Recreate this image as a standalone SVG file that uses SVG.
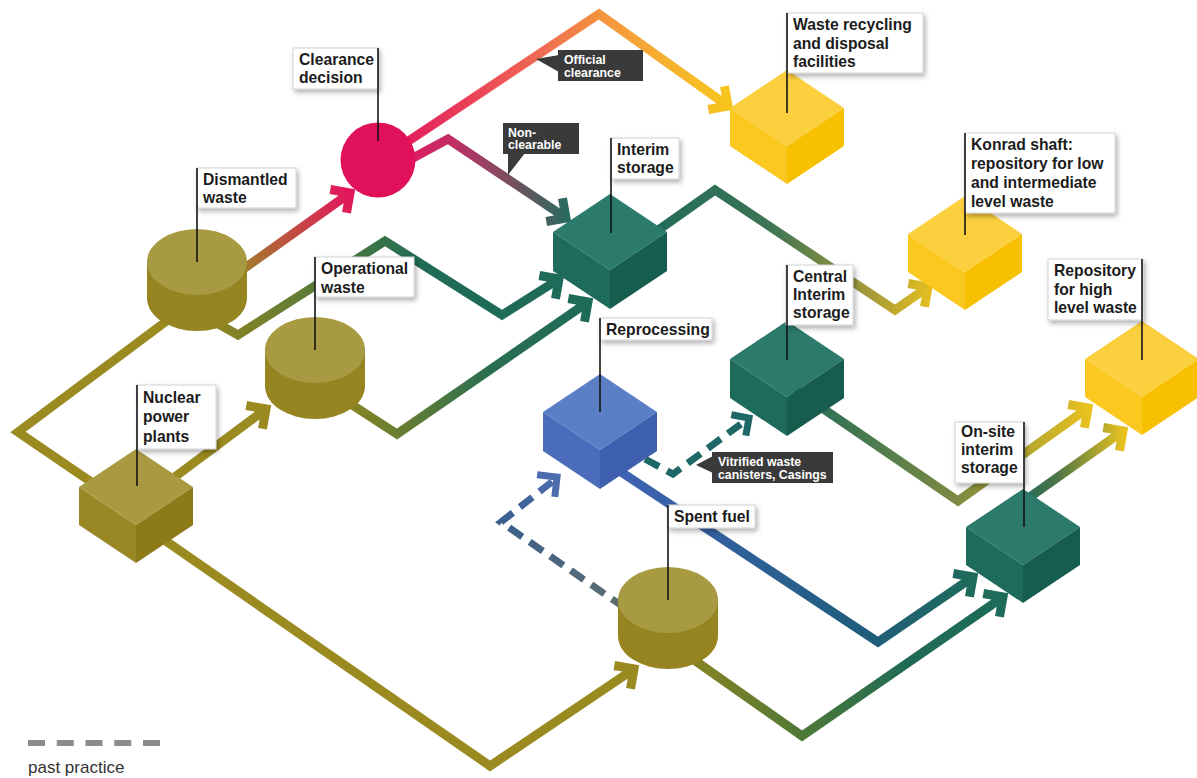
<svg xmlns="http://www.w3.org/2000/svg" width="1197" height="778" viewBox="0 0 1197 778">
<defs>
<style>
.conn{fill:none;stroke-width:9;stroke-linejoin:miter;stroke-miterlimit:10;stroke-linecap:butt}
.dash{fill:none;stroke-width:7;stroke-dasharray:16 9}
.head{fill:none;stroke-width:7;stroke-linejoin:miter;stroke-miterlimit:10}
.ol{stroke:#9a8a1f}
.box{fill:#fff;stroke:#d2d2d2;stroke-width:1;filter:url(#sh)}
.ptr{stroke:#141414;stroke-width:1.6}
.lt{font-family:"Liberation Sans",Arial,sans-serif;font-weight:bold;font-size:15.7px;fill:#1c1c1c}
.dbox{fill:#3a3a3a}
.dt{font-family:"Liberation Sans",Arial,sans-serif;font-weight:bold;font-size:12.3px;fill:#fff}
.oT{fill:#a99a42}.oL{fill:#9a8826}.oR{fill:#8d7b19}
.tT{fill:#2c7a6c}.tL{fill:#1e6a5b}.tR{fill:#165d4f}
.yT{fill:#fccf3f}.yL{fill:#fbc820}.yR{fill:#f7c000}
.bT{fill:#5b7fc6}.bL{fill:#4a6cbb}.bR{fill:#3e5fae}
.cylTop{fill:#a89a42}.cylSide{fill:#95841f}
</style>
<filter id="sh" x="-20%" y="-20%" width="150%" height="160%">
<feDropShadow dx="2" dy="3" stdDeviation="2.5" flood-color="#000" flood-opacity="0.3"/>
</filter>
<linearGradient id="gD" gradientUnits="userSpaceOnUse" x1="228" y1="280" x2="350" y2="193"><stop offset="0" stop-color="#9a8a24"/><stop offset="1" stop-color="#e3165c"/></linearGradient>
<linearGradient id="gE" gradientUnits="userSpaceOnUse" x1="395" y1="0" x2="728" y2="0"><stop offset="0" stop-color="#e3175c"/><stop offset="0.45" stop-color="#ef6d52"/><stop offset="0.62" stop-color="#f5953f"/><stop offset="0.9" stop-color="#f6bb28"/><stop offset="1" stop-color="#f7c41c"/></linearGradient>
<linearGradient id="gF" gradientUnits="userSpaceOnUse" x1="400" y1="0" x2="566" y2="0"><stop offset="0" stop-color="#e1185e"/><stop offset="0.3" stop-color="#c42d67"/><stop offset="0.65" stop-color="#7b4e5f"/><stop offset="1" stop-color="#2a6a60"/></linearGradient>
<linearGradient id="gG" gradientUnits="userSpaceOnUse" x1="215" y1="0" x2="559" y2="0"><stop offset="0" stop-color="#8e8420"/><stop offset="0.35" stop-color="#4e7a3c"/><stop offset="0.6" stop-color="#1f6b55"/><stop offset="1" stop-color="#1e6b5a"/></linearGradient>
<linearGradient id="gH" gradientUnits="userSpaceOnUse" x1="340" y1="0" x2="588" y2="0"><stop offset="0" stop-color="#8e8420"/><stop offset="0.25" stop-color="#667e32"/><stop offset="0.6" stop-color="#2a6e50"/><stop offset="1" stop-color="#1e6b5a"/></linearGradient>
<linearGradient id="gI" gradientUnits="userSpaceOnUse" x1="640" y1="0" x2="928" y2="0"><stop offset="0" stop-color="#1e6b5a"/><stop offset="0.45" stop-color="#3d7455"/><stop offset="0.8" stop-color="#a69b38"/><stop offset="1" stop-color="#e2bd20"/></linearGradient>
<linearGradient id="gJ" gradientUnits="userSpaceOnUse" x1="790" y1="0" x2="1088" y2="0"><stop offset="0" stop-color="#1e6b5a"/><stop offset="0.56" stop-color="#7d8a42"/><stop offset="1" stop-color="#e8c11f"/></linearGradient>
<linearGradient id="gK" gradientUnits="userSpaceOnUse" x1="1020" y1="0" x2="1123" y2="0"><stop offset="0" stop-color="#1e6b5a"/><stop offset="0.35" stop-color="#4a7448"/><stop offset="1" stop-color="#e8c11f"/></linearGradient>
<linearGradient id="gL" gradientUnits="userSpaceOnUse" x1="615" y1="0" x2="973" y2="0"><stop offset="0" stop-color="#3f63b4"/><stop offset="0.7" stop-color="#1f5d7c"/><stop offset="1" stop-color="#1e6b5a"/></linearGradient>
<linearGradient id="gM" gradientUnits="userSpaceOnUse" x1="680" y1="0" x2="1003" y2="0"><stop offset="0" stop-color="#8e8420"/><stop offset="0.4" stop-color="#4a7838"/><stop offset="0.7" stop-color="#1f6b55"/><stop offset="1" stop-color="#1e6b5a"/></linearGradient>
<linearGradient id="gN" gradientUnits="userSpaceOnUse" x1="0" y1="608" x2="0" y2="477"><stop offset="0" stop-color="#5e6e6e"/><stop offset="0.65" stop-color="#3a5e8c"/><stop offset="1" stop-color="#4c6cae"/></linearGradient>
</defs>
<rect width="1197" height="778" fill="#fff"/>

<g id="connectors">
<path class="conn ol" d="M100,488 L18,432 L188,305 M168.3,301.5 L188,305 L184.5,324.7"/>
<path class="conn ol" d="M160,488 L266,409 M246.3,405.5 L266,409 L262.5,428.7"/>
<path class="conn ol" d="M150,530 L490,766 L634,669 M614.3,665.5 L634,669 L630.5,688.7"/>
<path class="conn" stroke="url(#gD)" d="M228,280 L350,193 M330.3,189.5 L350,193 L346.5,212.7"/>
<path class="conn" stroke="url(#gE)" d="M395,150 L599,14 L728,106 M724.5,86.3 L728,106 L708.3,109.5"/>
<path class="conn" stroke="url(#gF)" d="M400,165 L448,139 L566,218 M562.5,198.3 L566,218 L546.3,221.5"/>
<path class="conn" stroke="url(#gG)" d="M215,322 L238,335 L385,241 L502,315 L559,279 M539.3,275.5 L559,279 L555.5,298.7"/>
<path class="conn" stroke="url(#gH)" d="M340,397 L397,434 L588,302 M568.3,298.5 L588,302 L584.5,321.7"/>
<path class="conn" stroke="url(#gI)" d="M640,243 L715,190 L895,310 L928,287 M908.3,283.5 L928,287 L924.5,306.7"/>
<path class="conn" stroke="url(#gJ)" d="M790,386 L958,501 L1088,408 M1068.3,404.5 L1088,408 L1084.5,427.7"/>
<path class="conn" stroke="url(#gK)" d="M1020,504 L1123,431 M1103.3,427.5 L1123,431 L1119.5,450.7"/>
<path class="conn" stroke="url(#gL)" d="M615,468 L878,642 L973,577 M953.3,573.5 L973,577 L969.5,596.7"/>
<path class="conn" stroke="url(#gM)" d="M680,650 L802,736 L1003,597 M983.3,593.5 L1003,597 L999.5,616.7"/>
<path class="dash" stroke="url(#gN)" d="M625,608 L501,522 L553,481"/>
<path class="head" stroke="#4c6cae" d="M537.1,474.8 L557,477 L554.8,496.9"/>
<path class="dash" stroke="#1f6868" d="M645,459 L673,474 L745,421"/>
<path class="head" stroke="#1f6868" d="M731.3,414.8 L749,418 L745.8,435.7"/>
</g>

<g id="connector-labels">
<g id="lbl-official">
<polygon class="dbox" points="536,59 559,55 559,72"/>
<rect class="dbox" x="558" y="50" width="85" height="31"/>
<text class="dt" x="564" y="64">Official</text>
<text class="dt" x="564" y="76.5">clearance</text>
</g>
<g id="lbl-nonclearable">
<polygon class="dbox" points="508,153 525,153 508,175"/>
<rect class="dbox" x="503" y="123" width="76" height="31"/>
<text class="dt" x="508" y="137">Non-</text>
<text class="dt" x="508" y="149">clearable</text>
</g>
<g id="lbl-vitrified">
<polygon class="dbox" points="696,465 713,456 713,473"/>
<rect class="dbox" x="712" y="452" width="121" height="31"/>
<text class="dt" x="718" y="466">Vitrified waste</text>
<text class="dt" x="718" y="478.5">canisters, Casings</text>
</g>
</g>

<g id="nuclear-power-plants">
<g transform="translate(136,449)">
<polygon class="oT" points="0,0 57,38 0,76 -57,38"/>
<polygon class="oL" points="-57,38 0,76 0,114 -57,76"/>
<polygon class="oR" points="0,76 57,38 57,76 0,114"/>
</g>
<rect class="box" x="137" y="385" width="79" height="64"/>
<line class="ptr" x1="137" y1="385" x2="137" y2="486"/>
<text class="lt" x="143" y="403">Nuclear</text>
<text class="lt" x="143" y="422">power</text>
<text class="lt" x="143" y="441.5">plants</text>
</g>

<g id="dismantled-waste">
<g transform="translate(197,262)">
<path class="cylSide" d="M-50,0 L-50,36 A50,33 0 0 0 50,36 L50,0 Z"/>
<ellipse class="cylTop" cx="0" cy="0" rx="50" ry="33"/>
</g>
<rect class="box" x="197" y="168" width="99" height="40"/>
<line class="ptr" x1="197" y1="168" x2="197" y2="262"/>
<text class="lt" x="203" y="185">Dismantled</text>
<text class="lt" x="203" y="203">waste</text>
</g>

<g id="operational-waste">
<g transform="translate(315,350)">
<path class="cylSide" d="M-50,0 L-50,36 A50,33 0 0 0 50,36 L50,0 Z"/>
<ellipse class="cylTop" cx="0" cy="0" rx="50" ry="33"/>
</g>
<rect class="box" x="315" y="257" width="99" height="40"/>
<line class="ptr" x1="315" y1="257" x2="315" y2="350"/>
<text class="lt" x="321" y="274">Operational</text>
<text class="lt" x="321" y="292.5">waste</text>
</g>

<g id="clearance-decision">
<circle cx="378" cy="160" r="37.5" fill="#e0115a"/>
<rect class="box" x="293" y="48" width="85" height="41"/>
<line class="ptr" x1="378" y1="48" x2="378" y2="141"/>
<text class="lt" x="299" y="65">Clearance</text>
<text class="lt" x="299" y="83">decision</text>
</g>

<g id="interim-storage">
<g transform="translate(610,194)">
<polygon class="tT" points="0,0 57,38 0,76 -57,38"/>
<polygon class="tL" points="-57,38 0,76 0,115 -57,77"/>
<polygon class="tR" points="0,76 57,38 57,77 0,115"/>
</g>
<rect class="box" x="611" y="138" width="68" height="41"/>
<line class="ptr" x1="611" y1="138" x2="611" y2="233"/>
<text class="lt" x="617" y="155">Interim</text>
<text class="lt" x="617" y="173">storage</text>
</g>

<g id="waste-recycling">
<g transform="translate(787,70)">
<polygon class="yT" points="0,0 57,38 0,76 -57,38"/>
<polygon class="yL" points="-57,38 0,76 0,114 -57,76"/>
<polygon class="yR" points="0,76 57,38 57,76 0,114"/>
</g>
<rect class="box" x="787" y="13" width="136" height="60"/>
<line class="ptr" x1="787" y1="13" x2="787" y2="113"/>
<text class="lt" x="793" y="30">Waste recycling</text>
<text class="lt" x="793" y="48.5">and disposal</text>
<text class="lt" x="793" y="67">facilities</text>
</g>

<g id="konrad-shaft">
<g transform="translate(965,196)">
<polygon class="yT" points="0,0 57,38 0,76 -57,38"/>
<polygon class="yL" points="-57,38 0,76 0,114 -57,76"/>
<polygon class="yR" points="0,76 57,38 57,76 0,114"/>
</g>
<rect class="box" x="965" y="133" width="150" height="80"/>
<line class="ptr" x1="965" y1="133" x2="965" y2="235"/>
<text class="lt" x="971" y="150">Konrad shaft:</text>
<text class="lt" x="971" y="169">repository for low</text>
<text class="lt" x="971" y="188">and intermediate</text>
<text class="lt" x="971" y="207">level waste</text>
</g>

<g id="repository-high-level">
<g transform="translate(1142,321)">
<polygon class="yT" points="0,0 57,38 0,76 -57,38"/>
<polygon class="yL" points="-57,38 0,76 0,114 -57,76"/>
<polygon class="yR" points="0,76 57,38 57,76 0,114"/>
</g>
<rect class="box" x="1048" y="259" width="95" height="61"/>
<line class="ptr" x1="1142" y1="259" x2="1142" y2="360"/>
<text class="lt" x="1054" y="276">Repository</text>
<text class="lt" x="1054" y="295">for high</text>
<text class="lt" x="1054" y="313">level waste</text>
</g>

<g id="central-interim-storage">
<g transform="translate(787,321)">
<polygon class="tT" points="0,0 57,38 0,76 -57,38"/>
<polygon class="tL" points="-57,38 0,76 0,115 -57,77"/>
<polygon class="tR" points="0,76 57,38 57,77 0,115"/>
</g>
<rect class="box" x="786" y="265" width="67" height="60"/>
<line class="ptr" x1="787" y1="265" x2="787" y2="360"/>
<text class="lt" x="793" y="282">Central</text>
<text class="lt" x="793" y="300">Interim</text>
<text class="lt" x="793" y="318">storage</text>
</g>

<g id="reprocessing">
<g transform="translate(600,374)">
<polygon class="bT" points="0,0 57,38 0,76 -57,38"/>
<polygon class="bL" points="-57,38 0,76 0,115 -57,77"/>
<polygon class="bR" points="0,76 57,38 57,77 0,115"/>
</g>
<rect class="box" x="600" y="318" width="112" height="22"/>
<line class="ptr" x1="600" y1="318" x2="600" y2="412"/>
<text class="lt" x="606" y="335">Reprocessing</text>
</g>

<g id="spent-fuel">
<g transform="translate(668,600)">
<path class="cylSide" d="M-50,0 L-50,36 A50,33 0 0 0 50,36 L50,0 Z"/>
<ellipse class="cylTop" cx="0" cy="0" rx="50" ry="33"/>
</g>
<rect class="box" x="668" y="505" width="87" height="23"/>
<line class="ptr" x1="668" y1="505" x2="668" y2="600"/>
<text class="lt" x="674" y="522">Spent fuel</text>
</g>

<g id="on-site-interim-storage">
<g transform="translate(1023,489)">
<polygon class="tT" points="0,0 57,38 0,76 -57,38"/>
<polygon class="tL" points="-57,38 0,76 0,114 -57,76"/>
<polygon class="tR" points="0,76 57,38 57,76 0,114"/>
</g>
<rect class="box" x="955" y="422" width="69" height="61"/>
<line class="ptr" x1="1024" y1="422" x2="1024" y2="527"/>
<text class="lt" x="961" y="437">On-site</text>
<text class="lt" x="961" y="455">interim</text>
<text class="lt" x="961" y="473">storage</text>
</g>

<g id="legend">
<line x1="28" y1="743" x2="160" y2="743" stroke="#8c8c8c" stroke-width="6" stroke-dasharray="17 11.75"/>
<text x="28" y="773" font-family="Liberation Sans, Arial, sans-serif" font-size="17" fill="#333">past practice</text>
</g>
</svg>
